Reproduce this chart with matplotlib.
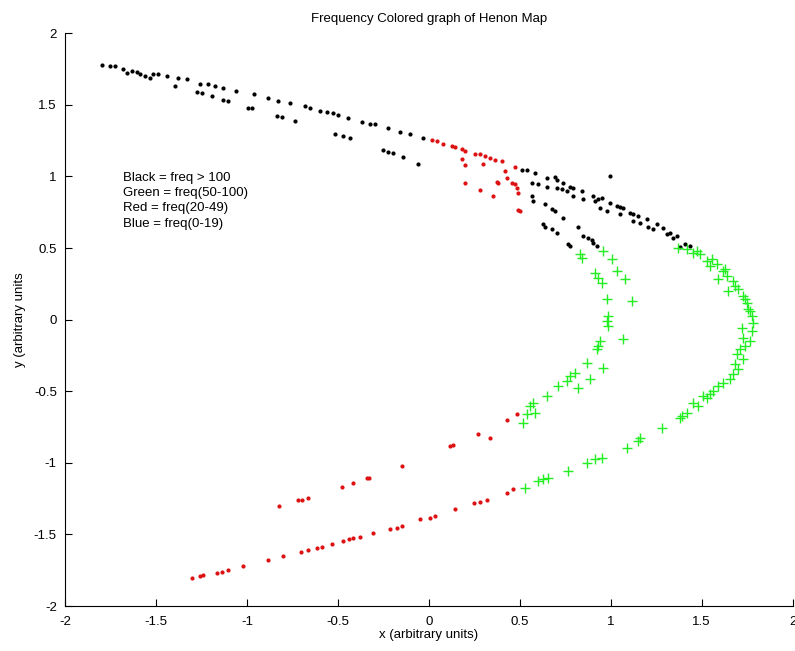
import matplotlib
matplotlib.use("Agg")
import matplotlib.pyplot as plt

plt.rcParams['font.family'] = ['Liberation Sans', 'DejaVu Sans']
plt.rcParams['axes.unicode_minus'] = False

# black points: freq > 100
black_x = [-1.797, -1.753, -1.725, -1.681, -1.659, -1.632, -1.604, -1.588, -1.560, -1.533,
           -1.516, -1.489, -1.440, -1.379, -1.330, -1.258, -1.214, -1.176, -1.132, -1.060,
           -0.962, -0.885, -0.830, -0.764, -0.681, -0.654, -0.599, -0.560, -0.527, -0.500,
           -0.445, -0.368, -0.324, -0.297, -0.225, -0.159, -0.104, -0.033,
           -1.396, -1.275, -1.247, -1.192, -1.132, -1.104, -0.995, -0.973, -0.835, -0.808,
           -0.736, -0.516, -0.473, -0.434, -0.253, -0.225, -0.198, -0.143, -0.060,
           0.511, 0.538, 0.582, 0.648, 0.692, 0.703, 0.736, 0.775, 0.791, 0.841,
           0.901, 0.929, 0.951, 0.995, 1.033, 1.049, 1.066, 1.104, 1.121, 1.148,
           1.198, 1.253, 1.286, 1.324, 1.363, 1.434,
           0.566, 0.599, 0.648, 0.703, 0.731, 0.758, 0.791, 0.846, 0.912, 0.940,
           0.978, 1.049, 1.121, 1.159, 1.203, 1.231, 1.308, 1.341, 1.379, 1.407,
           0.995,
           0.566, 0.571, 0.637, 0.676, 0.692, 0.736, 0.626, 0.637, 0.676, 0.703,
           0.764, 0.775, 0.819, 0.846, 0.874, 0.896, 0.901, 0.923]
black_y = [1.776, 1.769, 1.769, 1.748, 1.720, 1.734, 1.727, 1.713, 1.699, 1.685,
           1.713, 1.713, 1.699, 1.685, 1.678, 1.643, 1.643, 1.629, 1.615, 1.594,
           1.574, 1.546, 1.525, 1.511, 1.490, 1.476, 1.455, 1.448, 1.441, 1.427,
           1.406, 1.378, 1.364, 1.364, 1.336, 1.308, 1.294, 1.267,
           1.629, 1.588, 1.580, 1.560, 1.532, 1.525, 1.476, 1.476, 1.420, 1.413,
           1.385, 1.294, 1.280, 1.267, 1.183, 1.169, 1.162, 1.134, 1.085,
           1.043, 1.043, 1.022, 0.987, 0.994, 0.973, 0.953, 0.925, 0.918, 0.897,
           0.862, 0.841, 0.848, 0.813, 0.792, 0.785, 0.778, 0.743, 0.736, 0.722,
           0.701, 0.666, 0.638, 0.604, 0.583, 0.513,
           0.953, 0.946, 0.925, 0.918, 0.911, 0.897, 0.862, 0.841, 0.827, 0.778,
           0.757, 0.736, 0.687, 0.673, 0.645, 0.632, 0.597, 0.569, 0.506, 0.527,
           1.001,
           0.862, 0.827, 0.806, 0.771, 0.757, 0.708, 0.666, 0.645, 0.632, 0.604,
           0.527, 0.513, 0.645, 0.583, 0.569, 0.555, 0.534, 0.513]

# green points: freq 50-100
green_x = [1.368, 1.418, 1.451, 1.489, 1.527, 1.544, 1.582, 1.615, 1.637, 1.588,
           1.670, 1.698, 1.643, 1.725, 1.747, 1.753, 1.775, 1.780, 1.720, 1.775,
           1.725, 1.764, 1.709, 1.692, 1.725, 1.681, 1.698, 1.670, 1.615, 1.588,
           1.560, 1.544, 1.527, 1.478, 1.418, 1.390,
           1.473, 1.555, 1.626, 1.681, 1.736, 1.764, 1.736, 1.654, 1.505, 1.451,
           1.379, 1.280, 1.159, 1.148, 1.088, 0.951, 0.912, 0.868, 0.764, 0.654,
           0.626, 0.599, 0.527,
           0.830, 0.841, 0.912, 0.929, 0.951, 0.978, 0.984, 0.978, 0.984, 0.940,
           0.929, 0.923, 0.868, 0.802, 0.775, 0.758, 0.709, 0.648, 0.571, 0.555,
           0.538, 0.582, 0.516,
           0.956, 1.005, 1.033, 1.077, 1.115, 1.066, 0.956, 0.885, 0.819]
green_y = [0.499, 0.492, 0.464, 0.457, 0.408, 0.373, 0.387, 0.338, 0.304, 0.283,
           0.269, 0.213, 0.199, 0.164, 0.115, 0.073, 0.024, -0.024, -0.059, -0.080,
           -0.129, -0.150, -0.206, -0.241, -0.276, -0.311, -0.345, -0.380, -0.443, -0.464,
           -0.499, -0.520, -0.548, -0.604, -0.652, -0.673,
           0.478, 0.422, 0.352, 0.234, 0.143, 0.059, -0.185, -0.415, -0.534, -0.583,
           -0.687, -0.757, -0.827, -0.848, -0.897, -0.966, -0.973, -1.001, -1.057, -1.106,
           -1.113, -1.127, -1.176,
           0.457, 0.429, 0.324, 0.290, 0.255, 0.143, 0.024, -0.010, -0.045, -0.150,
           -0.185, -0.206, -0.304, -0.373, -0.394, -0.429, -0.464, -0.534, -0.583, -0.604,
           -0.659, -0.652, -0.722,
           0.478, 0.422, 0.338, 0.283, 0.129, -0.136, -0.338, -0.415, -0.478]

# red points: freq 20-49
red_x = [0.016, 0.044, 0.077, 0.126, 0.143, 0.181, 0.198, 0.253, 0.280, 0.308,
         0.335, 0.363, 0.401, 0.473,
         0.181, 0.198, 0.198, 0.280, 0.297, 0.352, 0.374, 0.379, 0.418, 0.429,
         0.456, 0.473, 0.484, 0.489, 0.489, 0.500,
         -1.302, -1.258, -1.242, -1.165, -1.137, -1.104, -1.022, -0.885, -0.802, -0.703,
         -0.665, -0.615, -0.588, -0.533, -0.473, -0.440, -0.418, -0.379, -0.308, -0.214,
         -0.176, -0.148, -0.049, 0.005, 0.033, 0.143, 0.247, 0.280, 0.319, 0.429,
         0.462,
         -0.824, -0.720, -0.698, -0.665, -0.478, -0.418, -0.341, -0.330, -0.148, 0.115,
         0.132, 0.269, 0.335, 0.429, 0.484]
red_y = [1.253, 1.246, 1.225, 1.211, 1.204, 1.190, 1.176, 1.155, 1.155, 1.141,
         1.127, 1.113, 1.106, 1.064,
         1.120, 1.078, 0.953, 0.904, 1.085, 0.862, 0.960, 0.953, 1.036, 0.987,
         0.953, 0.946, 0.918, 0.883, 0.764, 0.757,
         -1.804, -1.790, -1.783, -1.769, -1.762, -1.748, -1.720, -1.678, -1.650, -1.622,
         -1.608, -1.594, -1.588, -1.567, -1.546, -1.532, -1.525, -1.518, -1.490, -1.462,
         -1.455, -1.441, -1.392, -1.385, -1.371, -1.322, -1.281, -1.274, -1.260, -1.211,
         -1.183,
         -1.301, -1.260, -1.260, -1.246, -1.169, -1.141, -1.106, -1.106, -1.022, -0.883,
         -0.876, -0.799, -0.827, -0.701, -0.659]

legend_lines = ["Black = freq > 100", "Green = freq(50-100)",
                "Red = freq(20-49)", "Blue = freq(0-19)"]
ticks = [-2, -1.5, -1, -0.5, 0, 0.5, 1, 1.5, 2]
tick_labels = ["-2", "-1.5", "-1", "-0.5", "0", "0.5", "1", "1.5", "2"]

fig = plt.figure(figsize=(7.95, 6.51), dpi=100)
ax = fig.add_axes([0.082, 0.069, 0.915, 0.880])

ax.plot(black_x, black_y, '.', color='black', markersize=4)
ax.plot(green_x, green_y, '+', color='#22ee22', markersize=7, markeredgewidth=1.0)
ax.plot(red_x, red_y, '.', color='#dd1111', markersize=4)

ax.text(-1.68, 1.03, "\n".join(legend_lines), fontsize=9.5, va='top', ha='left',
        linespacing=1.35)

ax.set_xlim(-2, 2)
ax.set_ylim(-2, 2)
ax.set_xticks(ticks)
ax.set_xticklabels(tick_labels)
ax.set_yticks(ticks)
ax.set_yticklabels(tick_labels)
ax.tick_params(direction='in', length=5, labelsize=9.5)
ax.tick_params(axis='x', pad=7)
ax.tick_params(axis='y', pad=6)
ax.spines['top'].set_visible(False)
ax.spines['right'].set_visible(False)

ax.set_title("Frequency Colored graph of Henon Map", fontsize=9.5, pad=8)
ax.set_xlabel("x (arbitrary units)", fontsize=9.5, labelpad=1)
ax.set_ylabel("y (arbitrary units", fontsize=9.5, labelpad=6)

fig.savefig("out.png", dpi=100)
